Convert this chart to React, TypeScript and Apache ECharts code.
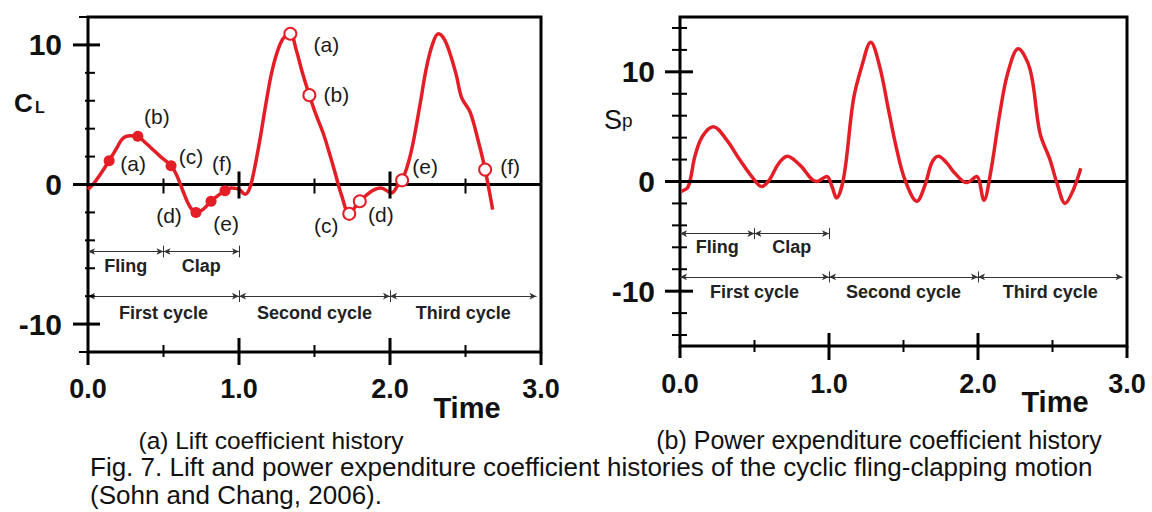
import React, { useEffect, useRef } from 'react';
import * as echarts from 'echarts';

// ---------- data ----------
const liftHistory: number[][] = [
  [0.0, -0.36], [0.04, 0.1], [0.08, 0.7], [0.14, 1.7], [0.19, 2.6], [0.23, 3.3], [0.28, 3.5], [0.33, 3.45],
  [0.37, 3.1], [0.42, 2.6], [0.48, 2.0], [0.55, 1.35], [0.59, 0.6], [0.63, -0.5], [0.67, -1.5], [0.715, -2.0],
  [0.76, -1.8], [0.815, -1.2], [0.86, -0.8], [0.907, -0.45], [0.95, -0.25], [1.0, -0.35], [1.04, -0.7],
  [1.07, -0.3], [1.1, 1.0], [1.14, 3.3], [1.18, 5.9], [1.22, 8.2], [1.27, 10.0], [1.31, 10.7], [1.34, 10.8],
  [1.38, 9.6], [1.42, 8.0], [1.466, 6.4], [1.51, 5.0], [1.56, 3.6], [1.6, 2.2], [1.64, 0.7], [1.68, -0.8],
  [1.73, -2.1], [1.77, -1.6], [1.8, -1.2], [1.85, -0.7], [1.9, -0.35], [1.94, -0.25], [2.01, -0.6],
  [2.05, -0.1], [2.08, 0.3], [2.12, 1.5], [2.155, 3.1], [2.2, 5.8], [2.24, 8.3], [2.28, 10.0], [2.32, 10.8],
  [2.36, 10.4], [2.4, 9.3], [2.44, 7.8], [2.475, 6.2], [2.53, 5.2], [2.585, 3.1], [2.63, 1.07], [2.68, -1.8],
];

const powerHistory: number[][] = [
  [0.01, -0.9], [0.056, -0.45], [0.1, 2.3], [0.15, 4.1], [0.224, 5.0], [0.313, 3.8], [0.4, 2.0], [0.49, 0.3],
  [0.548, -0.45], [0.6, 0.15], [0.66, 1.6], [0.72, 2.3], [0.805, 1.5], [0.917, 0.0], [0.985, 0.45],
  [1.02, -0.45], [1.05, -1.5], [1.1, 0.45], [1.163, 7.4], [1.22, 10.5], [1.28, 12.7], [1.34, 10.5],
  [1.4, 6.5], [1.455, 2.9], [1.51, 0.15], [1.59, -1.8], [1.645, -0.3], [1.69, 1.7], [1.734, 2.3],
  [1.79, 1.7], [1.845, 0.75], [1.924, -0.1], [1.99, 0.45], [2.04, -1.7], [2.08, 0.45], [2.15, 6.5],
  [2.2, 9.9], [2.27, 12.1], [2.35, 10.2], [2.416, 4.4], [2.483, 2.0], [2.53, -0.15], [2.585, -2.0],
  [2.64, -0.75], [2.69, 1.2],
];

const firstCycleKeys: number[][] = [[0.14, 1.7], [0.33, 3.45], [0.55, 1.35], [0.715, -2.0], [0.815, -1.2], [0.907, -0.45]];
const laterCycleKeys: number[][] = [[1.34, 10.8], [1.466, 6.4], [1.73, -2.1], [1.8, -1.2], [2.08, 0.3], [2.63, 1.07]];
const keyNames = ['(a)', '(b)', '(c)', '(d)', '(e)', '(f)'];

const xTickLabels = ['0.0', '1.0', '2.0', '3.0'];
const yTickLabels = ['-10', '0', '10'];

const phaseNames = ['Fling', 'Clap'];
const phaseBounds = [0, 0.5, 1.0];
const cycleNames = ['First cycle', 'Second cycle', 'Third cycle'];
const cycleBounds = [0, 1.0, 2.0, 2.97];

// ---------- styles ----------
const RED = '#e41e26';
const FONT = '"Liberation Sans", Arial, Helvetica, sans-serif';
const firstOffsets = [[24, 3], [19, -20], [20, -9], [-27, 3], [15, 22], [-3, -27]];
const laterOffsets = [[36, 11], [27, -1], [-23, 12], [21, 13], [23, -14], [25, -3]];

function tickSeries(gi: number, pts: number[][], dir: 'h' | 'v', a: number, b: number, lw: number) {
  return {
    type: 'custom',
    xAxisIndex: gi,
    yAxisIndex: gi,
    silent: true,
    clip: false,
    z: 6,
    data: pts,
    renderItem: (_p: any, api: any) => {
      const p = api.coord([api.value(0), api.value(1)]);
      const shape = dir === 'h'
        ? { x1: p[0] - a, y1: p[1], x2: p[0] + b, y2: p[1] }
        : { x1: p[0], y1: p[1] - a, x2: p[0], y2: p[1] + b };
      return { type: 'line', shape, style: { stroke: '#000', lineWidth: lw } };
    },
  };
}

function zeroLineSeries(gi: number) {
  return {
    type: 'custom',
    xAxisIndex: gi,
    yAxisIndex: gi,
    silent: true,
    clip: false,
    z: 1,
    data: [[0, 0]],
    renderItem: (params: any, api: any) => {
      const cs = params.coordSys;
      const p = api.coord([0, 0]);
      return { type: 'line', shape: { x1: cs.x, y1: p[1], x2: cs.x + cs.width, y2: p[1] }, style: { stroke: '#000', lineWidth: 3 } };
    },
  };
}

function annotations(phaseY: number, phaseTextY: number, cycleY: number, cycleTextY: number, tickH: number) {
  const segs: any[] = [];
  for (let i = 0; i < phaseNames.length; i++) {
    segs.push([{ coord: [phaseBounds[i], phaseY] }, { coord: [phaseBounds[i + 1], phaseY] }]);
  }
  for (let i = 0; i < cycleNames.length; i++) {
    segs.push([{ coord: [cycleBounds[i], cycleY] }, { coord: [cycleBounds[i + 1], cycleY] }]);
  }
  [0.5, 1.0].forEach((t) => segs.push([{ coord: [t, phaseY + tickH], symbol: 'none' }, { coord: [t, phaseY - tickH], symbol: 'none' }]));
  [1.0, 2.0].forEach((t) => segs.push([{ coord: [t, cycleY + tickH], symbol: 'none' }, { coord: [t, cycleY - tickH], symbol: 'none' }]));
  const pts: any[] = [];
  phaseNames.forEach((n, i) => pts.push({ name: n, coord: [(phaseBounds[i] + phaseBounds[i + 1]) / 2, phaseTextY] }));
  cycleNames.forEach((n, i) => pts.push({ name: n, coord: [(cycleBounds[i] + cycleBounds[i + 1]) / 2, cycleTextY] }));
  return {
    markLine: {
      silent: true,
      symbol: ['arrow', 'arrow'],
      symbolSize: [5, 7],
      label: { show: false },
      lineStyle: { color: '#333', width: 1, type: 'solid' },
      data: segs,
    },
    markPoint: {
      silent: true,
      symbol: 'circle',
      symbolSize: 1,
      itemStyle: { color: 'rgba(0,0,0,0)' },
      label: { show: true, position: 'inside', formatter: (p: any) => p.name, color: '#222', fontSize: 18, fontWeight: 'bold', fontFamily: FONT },
      data: pts,
    },
  };
}

function keySeries(gi: number, pts: number[][], offsets: number[][], hollow: boolean) {
  return {
    type: 'scatter',
    xAxisIndex: gi,
    yAxisIndex: gi,
    z: 4,
    symbol: 'circle',
    symbolSize: hollow ? 12 : 11,
    itemStyle: hollow ? { color: '#fff', borderColor: RED, borderWidth: 2, opacity: 1 } : { color: RED, opacity: 1 },
    label: {
      show: true,
      position: 'inside',
      color: '#1a1a1a',
      opacity: 1,
      fontSize: 21,
      fontFamily: FONT,
      formatter: (p: any) => keyNames[p.dataIndex],
    },
    data: pts.map((v, i) => ({ value: v, label: { offset: offsets[i] } })),
  };
}

export default function App() {
  const ref = useRef<HTMLDivElement>(null);
  useEffect(() => {
    document.body.style.margin = '0';
    if (!ref.current) return;
    const chart = echarts.init(ref.current, undefined, { renderer: 'svg' });
    const xAxisBase = (gi: number, margin: number) => ({
      type: 'value', gridIndex: gi, min: 0, max: 3, interval: 0.5,
      axisLine: { show: false }, axisTick: { show: false }, splitLine: { show: false },
      axisLabel: {
        margin, color: '#111', fontSize: 27, fontWeight: 'bold', fontFamily: FONT, lineHeight: 27,
        formatter: (v: number) => (Math.abs(v - Math.round(v)) < 1e-9 ? xTickLabels[Math.round(v)] : ''),
      },
    });
    const yLabel = (v: number) => (yTickLabels.includes(String(v)) ? String(v) : '');
    const yAxisBase = (gi: number, min: number, max: number, interval: number, margin: number) => ({
      type: 'value', gridIndex: gi, min, max, interval,
      axisLine: { show: false }, axisTick: { show: false }, splitLine: { show: false },
      axisLabel: { margin, color: '#111', fontSize: 30, fontWeight: 'bold', fontFamily: FONT, formatter: yLabel },
    });
    const leftMinorY = [-8, -6, -4, -2, 2, 4, 6, 8].map((v) => [0, v]);
    const rightMinorY = [-14, -12, -8, -6, -4, -2, 2, 4, 6, 8, 12, 14].map((v) => [0, v]);
    const majorY = [-10, 0, 10].map((v) => [0, v]);
    const minorX = [0.5, 1.5, 2.5];
    const majorX = [1, 2];

    const caption = (text: string, x: number, y: number, size: number, align: string) => ({
      type: 'text', x, y,
      style: { text, fontSize: size, fontFamily: FONT, fill: '#111', align, verticalAlign: 'middle' },
    });

    const option: any = {
      animation: false,
      backgroundColor: '#fff',
      grid: [
        { left: 88, top: 17, width: 453, height: 335, show: true, borderColor: '#000', borderWidth: 3, backgroundColor: 'transparent' },
        { left: 680, top: 17, width: 447, height: 329, show: true, borderColor: '#000', borderWidth: 3, backgroundColor: 'transparent' },
      ],
      xAxis: [xAxisBase(0, 23), xAxisBase(1, 24)],
      yAxis: [yAxisBase(0, -12, 12, 2, 26), yAxisBase(1, -15, 15, 5, 25)],
      series: [
        zeroLineSeries(0),
        zeroLineSeries(1),
        {
          type: 'line', xAxisIndex: 0, yAxisIndex: 0, z: 3, data: liftHistory, smooth: 0.35, showSymbol: false,
          lineStyle: { color: RED, width: 3.5 }, itemStyle: { color: RED },
          ...annotations(-4.8, -5.84, -8.0, -9.2, 0.42),
        },
        {
          type: 'line', xAxisIndex: 1, yAxisIndex: 1, z: 3, data: powerHistory, smooth: 0.35, showSymbol: false,
          lineStyle: { color: RED, width: 3.5 }, itemStyle: { color: RED },
          ...annotations(-4.75, -6.0, -8.7, -10.1, 0.5),
        },
        keySeries(0, firstCycleKeys, firstOffsets, false),
        keySeries(0, laterCycleKeys, laterOffsets, true),
        // left chart ticks
        tickSeries(0, leftMinorY, 'h', 3, 7, 2),
        tickSeries(0, [[0, -12], [0, 12]], 'h', 9, 0, 2),
        tickSeries(0, majorY, 'h', 15, 12, 3),
        tickSeries(0, minorX.map((t) => [t, -12]), 'v', 7, 5, 2),
        tickSeries(0, majorX.map((t) => [t, -12]), 'v', 14, 13, 3),
        tickSeries(0, [[0, -12], [3, -12]], 'v', 0, 13, 3),
        tickSeries(0, minorX.map((t) => [t, 0]), 'v', 6, 9, 2),
        tickSeries(0, majorX.map((t) => [t, 0]), 'v', 13, 14, 3),
        // right chart ticks
        tickSeries(1, rightMinorY, 'h', 8, 7, 2),
        tickSeries(1, majorY, 'h', 15, 13, 3),
        tickSeries(1, minorX.map((t) => [t, -15]), 'v', 6, 6, 2),
        tickSeries(1, majorX.map((t) => [t, -15]), 'v', 13, 14, 3),
        tickSeries(1, [[0, -15], [3, -15]], 'v', 0, 12, 3),
      ],
      graphic: [
        { type: 'text', left: 14, top: 90, style: { text: 'C', fontSize: 26, fontWeight: 'bold', fontFamily: FONT, fill: '#111' } },
        { type: 'text', left: 35, top: 99, style: { text: 'L', fontSize: 16, fontWeight: 'bold', fontFamily: FONT, fill: '#111' } },
        { type: 'text', left: 604, top: 106, style: { text: 'S', fontSize: 27, fontFamily: FONT, fill: '#111' } },
        { type: 'text', left: 622, top: 111, style: { text: 'p', fontSize: 19, fontFamily: FONT, fill: '#111' } },
        { type: 'text', x: 467, y: 408, style: { text: 'Time', fontSize: 29, fontWeight: 'bold', fontFamily: FONT, fill: '#111', align: 'center', verticalAlign: 'middle' } },
        { type: 'text', x: 1055, y: 402, style: { text: 'Time', fontSize: 29, fontWeight: 'bold', fontFamily: FONT, fill: '#111', align: 'center', verticalAlign: 'middle' } },
        caption('(a) Lift coefficient history', 271, 440, 24.5, 'center'),
        caption('(b) Power expenditure coefficient history', 879, 440, 25, 'center'),
        caption('Fig. 7. Lift and power expenditure coefficient histories of the cyclic fling-clapping motion', 90, 467, 26, 'left'),
        caption('(Sohn and Chang, 2006).', 90, 495, 26, 'left'),
      ],
    };
    chart.setOption(option);
    return () => chart.dispose();
  }, []);
  return <div ref={ref} style={{ width: 1152, height: 512 }} />;
}
